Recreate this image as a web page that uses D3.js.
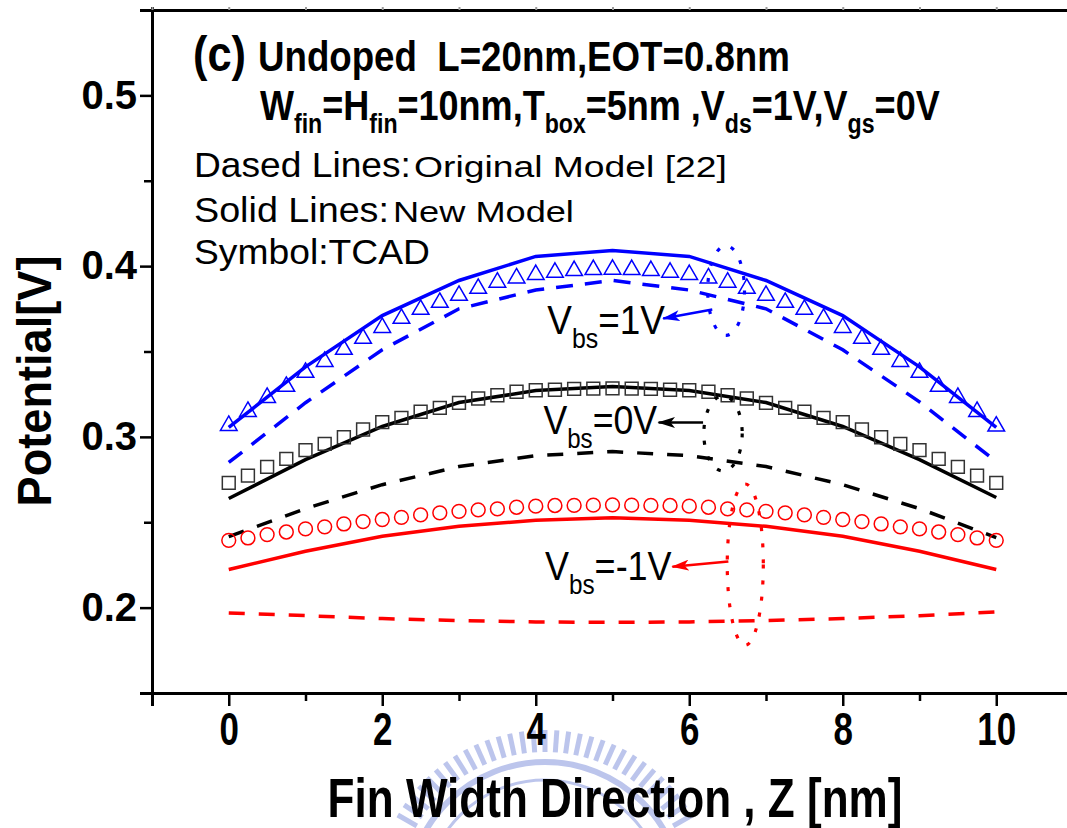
<!DOCTYPE html>
<html lang="en">
<head>
<meta charset="UTF-8">
<title>Potential along the fin width</title>
<script src="https://d3js.org/d3.v7.min.js"></script>
<style>
	body, html { margin: 0; padding: 0; background: #fff; overflow: hidden; }
	svg { display: block; }
	text { font-family: "Liberation Sans", Arial, sans-serif; white-space: pre; }
</style>
</head>
<body>
<div id="chart"></div>
<script>
// model curves are evaluated at integer z, TCAD symbols every 0.25 nm
const zModel = [0, 1, 2, 3, 4, 5, 6, 7, 8, 9, 10];
const zTcad = [0, 0.25, 0.5, 0.75, 1, 1.25, 1.5, 1.75, 2, 2.25, 2.5, 2.75, 3, 3.25, 3.5, 3.75, 4, 4.25, 4.5, 4.75,
	5, 5.25, 5.5, 5.75, 6, 6.25, 6.5, 6.75, 7, 7.25, 7.5, 7.75, 8, 8.25, 8.5, 8.75, 9, 9.25, 9.5, 9.75, 10];

// Vbs = 1V
const newModel1V = [0.3055, 0.341, 0.371, 0.3916, 0.4057, 0.4092, 0.4057, 0.3916, 0.371, 0.341, 0.3055];
const origModel1V = [0.285, 0.320, 0.351, 0.375, 0.386, 0.3916, 0.386, 0.375, 0.351, 0.3205, 0.2855];
const tcad1V = [0.3066, 0.3148, 0.323, 0.3295, 0.3377, 0.3441, 0.3512, 0.3576, 0.364, 0.3693, 0.3746, 0.3787,
	0.3828, 0.3869, 0.3905, 0.393, 0.395, 0.3963, 0.3973, 0.3979, 0.3981, 0.3979, 0.3973, 0.3963, 0.395, 0.393,
	0.3905, 0.3869, 0.3828, 0.3787, 0.3746, 0.3693, 0.364, 0.3576, 0.3512, 0.3441, 0.3377, 0.3295, 0.323, 0.3148, 0.3062];

// Vbs = 0V
const newModel0V = [0.2639, 0.2867, 0.3061, 0.3201, 0.3271, 0.3295, 0.3271, 0.3201, 0.3061, 0.2867, 0.2645];
const origModel0V = [0.2416, 0.258, 0.272, 0.2826, 0.289, 0.2914, 0.289, 0.2826, 0.272, 0.258, 0.241];
const tcad0V = [0.2731, 0.2773, 0.2824, 0.2871, 0.2922, 0.2959, 0.2998, 0.3043, 0.3086, 0.3111, 0.3147, 0.317,
	0.3199, 0.3225, 0.3244, 0.3264, 0.3273, 0.3276, 0.3281, 0.3283, 0.3284, 0.3283, 0.3281, 0.3276, 0.3273, 0.3264,
	0.3244, 0.3225, 0.3199, 0.317, 0.3147, 0.3111, 0.3086, 0.3043, 0.2998, 0.2959, 0.2922, 0.2871, 0.2824, 0.2773, 0.2731];

// Vbs = -1V
const newModelm1V = [0.2223, 0.233, 0.2418, 0.2476, 0.2512, 0.2526, 0.2512, 0.2476, 0.2418, 0.233, 0.2223];
const origModelm1V = [0.1969, 0.1953, 0.1936, 0.1924, 0.1916, 0.1914, 0.1916, 0.1924, 0.1936, 0.1953, 0.1975];
const tcadm1V = [0.2394, 0.2408, 0.2428, 0.2443, 0.2461, 0.2473, 0.249, 0.2504, 0.2516, 0.2529, 0.2543, 0.2555,
	0.2564, 0.2572, 0.2578, 0.2588, 0.2594, 0.2598, 0.2599, 0.26, 0.2602, 0.26, 0.2599, 0.2598, 0.2594, 0.2588,
	0.2578, 0.2572, 0.2564, 0.2555, 0.2543, 0.2529, 0.2516, 0.2504, 0.249, 0.2473, 0.2461, 0.2443, 0.2428, 0.2408, 0.2394];

const xMajor = [0, 2, 4, 6, 8, 10];
const xMinor = [-1, 1, 3, 5, 7, 9, 11];
const yMajor = [0.2, 0.3, 0.4, 0.5];
const yMinor = [0.15, 0.25, 0.35, 0.45, 0.55];

const width = 1067, height = 828;
const BLUE = "#0000ff", RED = "#ff0000", BLACK = "#000000";

const svg = d3.select("#chart").append("svg")
	.attr("width", width)
	.attr("height", height);

const x = d3.scaleLinear().domain([-1, 11]).range([152, 1073]);
const y = d3.scaleLinear().domain([0.15, 0.55]).range([693, 10]);

// faint watermark seal behind the x label
const wm = svg.append("g").attr("fill", "none").attr("stroke", "#bcc5ec");
const wmC = [545, 900];
d3.range(-150, -29, 4).forEach(a => {
	const r = a * Math.PI / 180;
	wm.append("line")
		.attr("x1", wmC[0] + 148 * Math.cos(r)).attr("y1", wmC[1] + 148 * Math.sin(r))
		.attr("x2", wmC[0] + 170 * Math.cos(r)).attr("y2", wmC[1] + 170 * Math.sin(r))
		.attr("stroke-width", 5);
});
wm.append("circle").attr("cx", wmC[0]).attr("cy", wmC[1]).attr("r", 138).attr("stroke-width", 6);
wm.append("circle").attr("cx", wmC[0]).attr("cy", wmC[1]).attr("r", 120).attr("stroke-width", 3);

// axes
function styleAxis(g, w) {
	g.select(".domain").attr("stroke-width", w);
	g.selectAll(".tick line").attr("stroke-width", 2.5);
}

svg.append("g").attr("transform", `translate(0,${y(0.15)})`)
	.call(d3.axisBottom(x).tickValues(xMinor).tickSize(8).tickFormat(""))
	.call(g => styleAxis(g, 3));
const xAx = svg.append("g").attr("transform", `translate(0,${y(0.15)})`)
	.call(d3.axisBottom(x).tickValues(xMajor).tickSize(13).tickPadding(6).tickFormat(d3.format("d")))
	.call(g => styleAxis(g, 3));
xAx.selectAll(".tick text")
	.attr("font-family", "Liberation Sans, Arial, sans-serif")
	.attr("font-size", 46).attr("font-weight", "bold").attr("fill", "#000")
	.attr("transform", "scale(0.76,1)");

svg.append("g").attr("transform", `translate(${x(-1)},0)`)
	.call(d3.axisLeft(y).tickValues(yMinor).tickSize(8).tickFormat(""))
	.call(g => styleAxis(g, 3));
const yAx = svg.append("g").attr("transform", `translate(${x(-1)},0)`)
	.call(d3.axisLeft(y).tickValues(yMajor).tickSize(12).tickPadding(3).tickFormat(d3.format(".1f")))
	.call(g => styleAxis(g, 3));
yAx.selectAll(".tick text")
	.attr("font-family", "Liberation Sans, Arial, sans-serif")
	.attr("font-size", 40).attr("font-weight", "bold").attr("fill", "#000");

// top frame with small ticks
svg.append("g").attr("transform", `translate(0,${y(0.55)})`)
	.call(d3.axisTop(x).tickValues(d3.range(-1, 12)).tickSize(3).tickFormat(""))
	.call(g => styleAxis(g, 3))
	.call(g => g.selectAll(".tick line").attr("stroke", "#999").attr("stroke-width", 2));

// curves
const line = d3.line().x((d, i) => x(zModel[i])).y(d => y(d));
const curves = [
	{ v: newModel1V, c: BLUE, dash: null },
	{ v: origModel1V, c: BLUE, dash: "17,12" },
	{ v: newModel0V, c: BLACK, dash: null },
	{ v: origModel0V, c: BLACK, dash: "16,14" },
	{ v: newModelm1V, c: RED, dash: null },
	{ v: origModelm1V, c: RED, dash: "16,14" }
];
curves.forEach(s => {
	svg.append("path")
		.attr("d", line(s.v))
		.attr("fill", "none")
		.attr("stroke", s.c)
		.attr("stroke-width", 3.5)
		.attr("stroke-dasharray", s.dash);
});

// TCAD symbols
function symbols(vals, type, size, color) {
	svg.append("g").selectAll("path")
		.data(vals)
		.join("path")
		.attr("transform", (d, i) => `translate(${x(zTcad[i])},${y(d)})`)
		.attr("d", d3.symbol(type, size))
		.attr("fill", "none")
		.attr("stroke", color)
		.attr("stroke-width", 1.5);
}
symbols(tcad1V, d3.symbolTriangle, 120, BLUE);
symbols(tcad0V, d3.symbolSquare, 165, "#333");
symbols(tcadm1V, d3.symbolCircle, 150, RED);

// helpers for text
function rich(g, parts, size, subSize, drop) {
	const t = g.append("text").attr("font-size", size);
	let down = false;
	parts.forEach(([str, sub]) => {
		const ts = t.append("tspan").text(str);
		if (sub) {
			ts.attr("font-size", subSize);
			if (!down) { ts.attr("dy", drop); down = true; }
		} else if (down) {
			ts.attr("dy", -drop); down = false;
		}
	});
	return t;
}
function fit(g, px, py, w, rot) {
	const b = g.node().getBBox();
	const s = w / b.width;
	g.attr("transform", `translate(${px},${py})${rot ? " rotate(-90)" : ""} scale(${s},1)`);
}
function label(str, px, py, w, size, bold) {
	const g = svg.append("g");
	g.append("text").attr("font-size", size).attr("font-weight", bold ? "bold" : null).text(str);
	fit(g, px, py, w);
	return g;
}

// title block
label("(c)", 193, 71, 53, 50, true);
label("Undoped  L=20nm,EOT=0.8nm", 258, 71, 532, 42, true);
const t2 = svg.append("g");
rich(t2, [["W"], ["fin", 1], ["=H"], ["fin", 1], ["=10nm,T"], ["box", 1], ["=5nm ,V"], ["ds", 1],
	["=1V,V"], ["gs", 1], ["=0V"]], 42, 27, 13).attr("font-weight", "bold");
fit(t2, 260, 120, 680);

label("Dased Lines:", 194, 177, 217, 35);
label("Original Model [22]", 414, 177, 313, 29);
label("Solid Lines:", 194, 222, 195, 35);
label("New Model", 393, 222, 181, 30);
label("Symbol:TCAD", 194, 264, 236, 35);

// axis titles
const yl = svg.append("g");
yl.append("text").attr("font-size", 49).attr("font-weight", "bold").attr("text-anchor", "middle").text("Potential[V]");
fit(yl, 51, 381, 251, true);
const xl = svg.append("g");
xl.append("text").attr("font-size", 56).attr("font-weight", "bold").attr("text-anchor", "middle").text("Fin Width Direction , Z [nm]");
fit(xl, 615, 817, 575);

// Vbs annotations: dotted ellipse, arrow, label
const defs = svg.append("defs");
[["blue", BLUE], ["black", BLACK], ["red", RED]].forEach(([k, c]) => {
	defs.append("marker")
		.attr("id", "arr-" + k)
		.attr("viewBox", "0 0 16 10")
		.attr("refX", 15).attr("refY", 5)
		.attr("markerWidth", 18).attr("markerHeight", 11)
		.attr("markerUnits", "userSpaceOnUse")
		.attr("orient", "auto")
		.append("path").attr("d", "M0,0L16,5L0,10L4,5Z").attr("fill", c);
});

const notes = [
	{ k: "blue", c: BLUE, ell: [6.48, 0.3857, 0.24, 0.0262], arrow: [6.30, 0.3746, 5.66, 0.3693], txt: [4.15, 0.3605], w: 118, s: "=1V" },
	{ k: "black", c: BLACK, ell: [6.44, 0.3020, 0.25, 0.0220], arrow: [6.18, 0.3084, 5.60, 0.3084], txt: [4.10, 0.3014], w: 114, s: "=0V" },
	{ k: "red", c: RED, ell: [6.73, 0.2252, 0.235, 0.0472], arrow: [6.51, 0.2270, 5.78, 0.2240], txt: [4.12, 0.2164], w: 127, s: "=-1V" }
];
notes.forEach(n => {
	svg.append("ellipse")
		.attr("cx", x(n.ell[0])).attr("cy", y(n.ell[1]))
		.attr("rx", x(n.ell[2]) - x(0)).attr("ry", y(0) - y(n.ell[3]))
		.attr("fill", "none").attr("stroke", n.c)
		.attr("stroke-width", 3.2).attr("stroke-dasharray", "4,12");
	svg.append("line")
		.attr("x1", x(n.arrow[0])).attr("y1", y(n.arrow[1]))
		.attr("x2", x(n.arrow[2])).attr("y2", y(n.arrow[3]))
		.attr("stroke", n.c).attr("stroke-width", 2.5)
		.attr("marker-end", `url(#arr-${n.k})`);
	const g = svg.append("g");
	rich(g, [["V"], ["bs", 1], [n.s]], 40, 27, 14).attr("fill", "#000");
	fit(g, x(n.txt[0]), y(n.txt[1]), n.w);
});
</script>
</body>
</html>
